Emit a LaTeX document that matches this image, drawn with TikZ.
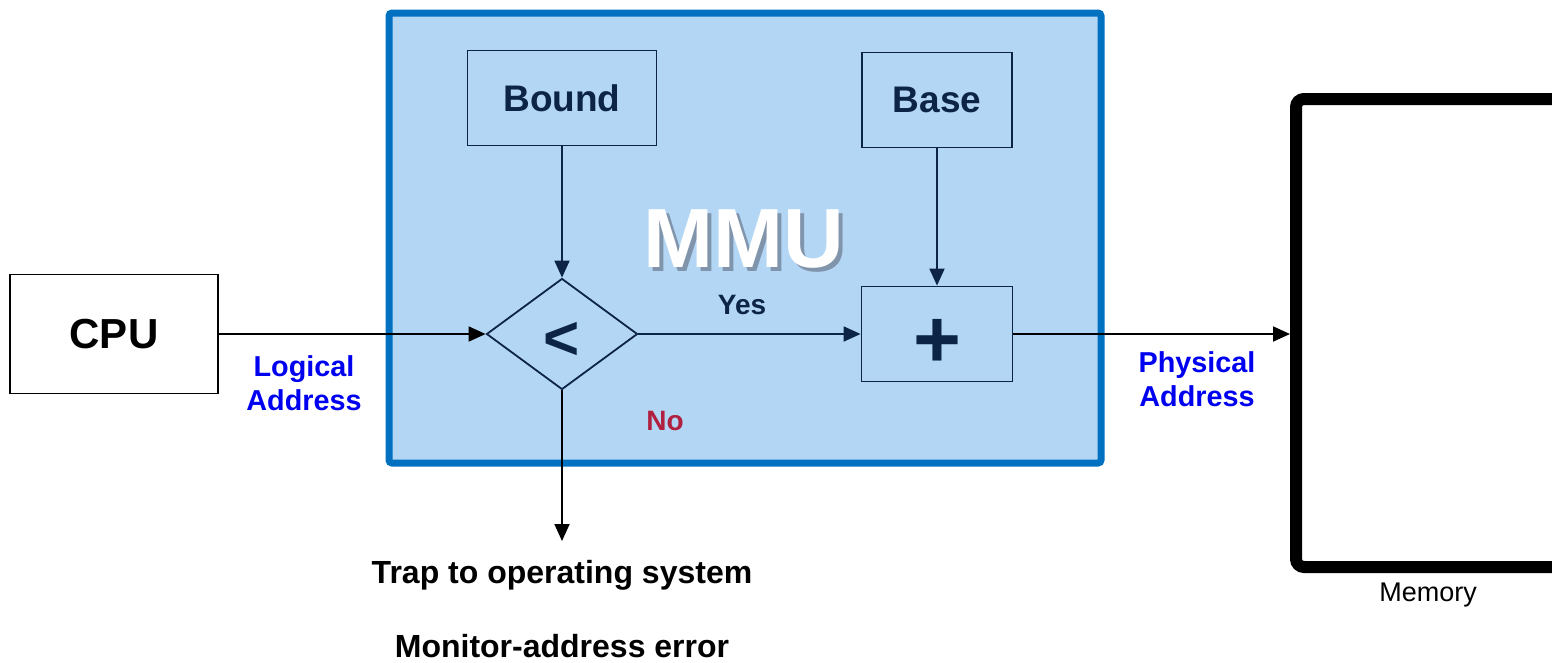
\documentclass[tikz,border=0pt]{standalone}
\usepackage{fontspec}
\setmainfont{Liberation Sans}
\usetikzlibrary{shapes.geometric,arrows.meta}
\definecolor{mmufill}{RGB}{180,214,245}
\definecolor{mmuedge}{RGB}{0,112,192}
\definecolor{navy}{RGB}{12,36,70}
\definecolor{addrblue}{RGB}{0,0,240}
\definecolor{nored}{RGB}{176,32,64}
\definecolor{titleshade}{RGB}{128,148,172}
\newcommand{\shadedtitle}[1]{%
  \makebox[0pt][l]{\hspace{3.5pt}\raisebox{-3.5pt}{\textcolor{titleshade}{#1}}}%
  \textcolor{white}{#1}}
\tikzset{
  unit/.style={draw=navy, line width=1.8pt, fill=mmufill, text=navy, inner sep=0pt,
    font=\fontsize{37}{42}\selectfont\bfseries},
  cpubox/.style={draw=black, line width=1.8pt, fill=white, inner sep=0pt,
    font=\fontsize{42}{46}\selectfont\bfseries},
  test/.style={diamond, draw=navy, line width=1.8pt, fill=mmufill, text=navy, inner sep=0pt,
    minimum width=151pt, minimum height=111pt},
  wire/.style={line width=1.8pt, -{Triangle[length=17pt,width=15pt]}},
  addr/.style={text=addrblue, align=center, font=\fontsize{28.8}{34}\selectfont\bfseries},
  note/.style={text=black, font=\fontsize{32}{36}\selectfont\bfseries},
  tag/.style={font=\fontsize{28}{32}\selectfont\bfseries}
}
\begin{document}
\begin{tikzpicture}[x=1pt,y=-1pt]
\useasboundingbox (0,0) rectangle (1552,662);
\clip (0,0) rectangle (1552,662);

% MMU enclosure
\draw[mmuedge, line width=7pt, fill=mmufill, rounded corners=3pt] (389,13) rectangle (1101,463);

% title with drop shadow
\node[font=\fontsize{84}{90}\selectfont\bfseries] (mmu) at (744,241) {\shadedtitle{MMU}};

% blocks
\node[cpubox, minimum width=208pt, minimum height=119pt] (cpu) at (114,334) {CPU};
\node[unit, minimum width=189pt, minimum height=95pt] (bound) at (562,98) {Bound};
\node[unit, minimum width=150pt, minimum height=95pt] (base) at (937,100) {Base};
\node[unit, minimum width=151pt, minimum height=95pt] (add) at (937,334) {};
\node[test] (cmp) at (562,334) {};
\node[text=navy, font=\fontsize{82}{82}\selectfont\bfseries] (plus) at (937,343) {+};
\node[text=navy, font=\fontsize{62}{62}\selectfont\bfseries] (less) at (562,341) {<};

% memory
\node[draw=black, line width=12pt, rounded corners=8pt, minimum width=288pt, minimum height=468pt, inner sep=0pt] (mem) at (1440,333) {};
\coordinate (memin) at (1290,334);
\node[font=\fontsize{27}{30}\selectfont] (memlabel) at (1428,595) {Memory};

% labels
\node[addr] (logical) at (304,383) {Logical\\Address};
\node[addr] (physical) at (1197,379) {Physical\\Address};
\node[tag, text=navy] (yes) at (742,305) {Yes};
\node[tag, text=nored] (no) at (665,421) {No};
\node[note] (trap) at (562,575) {Trap to operating system};
\node[note] (monitor) at (562,646) {Monitor-address error};
\coordinate (trapin) at (562,541);

% connectors
\draw[wire, black] (cpu.east) -- (cmp.west);
\draw[wire, navy] (bound.south) -- (cmp.north);
\draw[wire, navy] (base.south) -- (add.north);
\draw[wire, navy] (cmp.east) -- (add.west);
\draw[wire, black] (add.east) -- (memin);
\draw[wire, black] (cmp.south) -- (trapin);
\end{tikzpicture}
\end{document}
